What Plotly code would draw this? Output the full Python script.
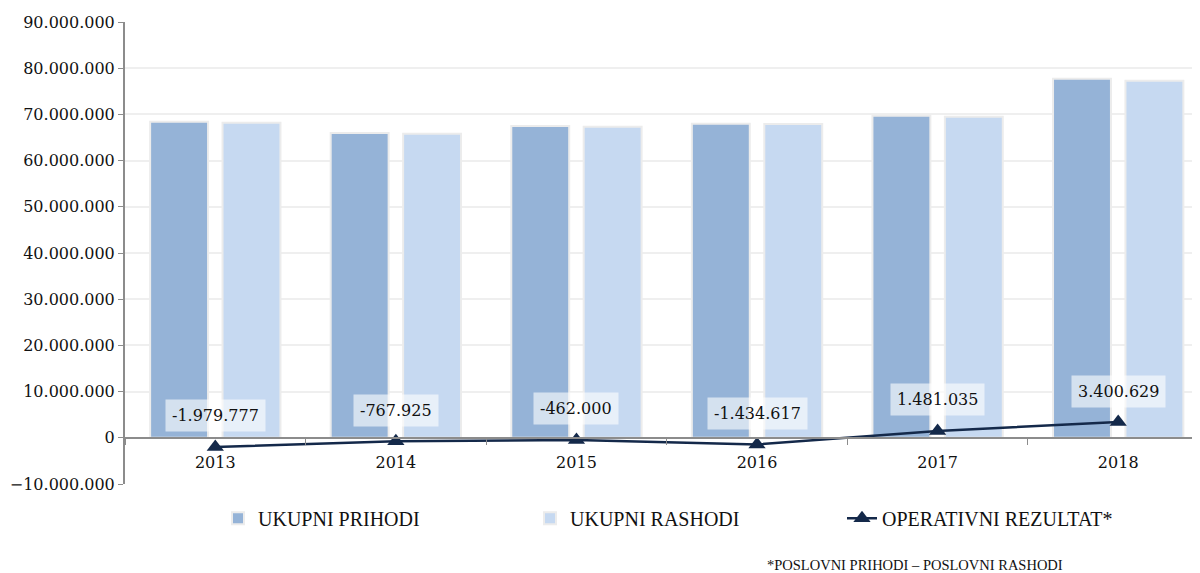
import plotly.graph_objects as go

years = ["2013", "2014", "2015", "2016", "2017", "2018"]
prihodi = [68400000, 66000000, 67500000, 68000000, 69700000, 77700000]
rashodi = [68200000, 65800000, 67300000, 67900000, 69500000, 77300000]
rezultat = [-1979777, -767925, -462000, -1434617, 1481035, 3400629]
yticks = [-10000000, 0, 10000000, 20000000, 30000000, 40000000, 50000000,
          60000000, 70000000, 80000000, 90000000]

SERIF = "DejaVu Serif"
fig = go.Figure()
fig.add_bar(x=years, y=prihodi, name="UKUPNI PRIHODI",
            marker=dict(color="#95b3d7", line=dict(color="#ececec", width=2)))
fig.add_bar(x=years, y=rashodi, name="UKUPNI RASHODI",
            marker=dict(color="#c6d9f1", line=dict(color="#ececec", width=2)))
fig.add_scatter(x=years, y=rezultat, name="OPERATIVNI REZULTAT*",
                mode="lines+markers",
                line=dict(color="#14294a", width=2.5),
                marker=dict(symbol="triangle-up", size=15, color="#14294a"))

annotations = []
for i, v in enumerate(rezultat):
    annotations.append(dict(
        xref="x", yref="y", x=i, y=v, text=f"{v:,}".replace(",", "."),
        showarrow=False, yshift=31,
        bgcolor="rgba(255,255,255,0.6)", borderpad=6,
        font=dict(family=SERIF, size=16, color="#111111")))

annotations.append(dict(
    xref="paper", yref="paper", x=(765 - 125) / 1075, y=-0.176,
    xanchor="left", yanchor="middle", showarrow=False,
    text="*POSLOVNI PRIHODI – POSLOVNI RASHODI",
    font=dict(family="Liberation Serif", size=14.5, color="#111111")))

# page body has an 8px margin, so the figure is 8px smaller and offset
zero_pos = (484 - 438) / 462
fig.update_layout(
    width=1192, height=565,
    margin=dict(l=117, r=0, t=14, b=89, autoexpand=False),
    paper_bgcolor="white", plot_bgcolor="white",
    separators=",.",
    barmode="group", bargap=0.198, bargroupgap=0.2,
    showlegend=True,
    annotations=annotations,
    legend=dict(orientation="h", x=(218 - 125) / 1075, y=-0.074,
                xanchor="left", yanchor="middle",
                entrywidth=267, entrywidthmode="pixels",
                font=dict(family="Liberation Serif", size=20, color="#111111")),
    font=dict(family=SERIF, size=16, color="#111111"),
    xaxis=dict(type="category", anchor="free", position=zero_pos,
               showline=True, linecolor="#8c8c8c", linewidth=2,
               ticks="outside", tickson="boundaries", ticklen=6,
               tickcolor="#8c8c8c", showgrid=False,
               ticklabelstandoff=10,
               range=[-0.5, 5.453],
               tickfont=dict(family=SERIF, size=16)),
    yaxis=dict(range=[-10000000, 90000000], tickvals=yticks,
               tickformat=",", showline=True, linecolor="#8c8c8c",
               linewidth=2, ticks="outside", ticklen=5, tickcolor="#8c8c8c",
               showgrid=True, gridcolor="#efefef", gridwidth=1.5,
               zeroline=False,
               tickfont=dict(family=SERIF, size=16)),
)

fig.write_html("out.html")
